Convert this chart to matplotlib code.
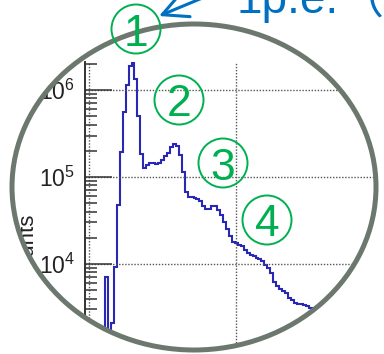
import numpy as np
import matplotlib
matplotlib.use("Agg")
import matplotlib.pyplot as plt
from matplotlib.path import Path
from matplotlib.patches import PathPatch, Ellipse, Circle
from matplotlib.ticker import LogLocator, FuncFormatter, NullFormatter

plt.rcParams["font.family"] = ["Liberation Sans", "DejaVu Sans"]

# ---- charge spectrum (counts per channel) ----
first_channel = 6
counts = [
    7.1e3, 1.6e3, 2.1e3, 9.3e3, 4.8e4, 1.95e5, 5.6e5, 1.15e6, 1.91e6, 2.04e6,
    1.35e6, 5.0e5, 1.82e5, 1.26e5, 1.38e5, 1.45e5, 1.45e5, 1.41e5, 1.45e5, 1.55e5,
    1.74e5, 1.91e5, 2.19e5, 2.40e5, 2.29e5, 1.78e5, 1.15e5, 6.8e4, 5.9e4, 5.9e4,
    5.75e4, 5.6e4, 5.25e4, 4.7e4, 4.25e4, 4.25e4, 4.7e4, 4.7e4, 4.15e4, 3.7e4,
    3.0e4, 2.5e4, 2.1e4, 1.8e4, 1.75e4, 1.65e4, 1.6e4, 1.45e4, 1.35e4, 1.26e4,
    1.23e4, 1.17e4, 1.15e4, 1.07e4, 9.8e3, 8.9e3, 7.8e3, 6.2e3, 5.6e3, 5.1e3,
    4.9e3, 4.6e3, 4.1e3, 3.9e3, 3.6e3, 3.5e3, 3.45e3, 3.4e3, 3.3e3, 3.1e3,
    2.95e3,
]
peak_labels = ["1", "2", "3", "4"]
annotation_text = "1p.e.（"
y_label = "Counts"

W, H = 384, 354
fig = plt.figure(figsize=(W / 100, H / 100), dpi=100)

# main histogram axes (pixel layout)
left_px, right_px, top_px, bottom_px = 85, 384, 62, 368.4
ax = fig.add_axes([left_px / W, (H - bottom_px) / H,
                   (right_px - left_px) / W, (bottom_px - top_px) / H])

edges = np.arange(first_channel, first_channel + len(counts) + 1) - 0.5
ax.stairs(counts, edges, baseline=1.0, color="#2828b4", lw=1.5)

ax.set_yscale("log")
ax.set_xlim(-1.25, 99.76)
ax.set_ylim(10 ** 2.8, 10 ** 6.322)
ax.set_xticks([0, 50, 100])
ax.tick_params(axis="x", length=0, labelbottom=False)

ax.yaxis.set_major_locator(LogLocator(base=10, numticks=20))
ax.yaxis.set_minor_locator(LogLocator(base=10, subs=np.arange(2, 10), numticks=20))
ax.yaxis.set_major_formatter(
    FuncFormatter(lambda v, p: r"$\mathdefault{10^{%d}}$" % round(np.log10(v))))
ax.yaxis.set_minor_formatter(NullFormatter())
ax.tick_params(axis="y", which="major", direction="in", length=19.4, width=1.1,
               color="#333333", pad=7, labelsize=16.5, labelcolor="#222222")
ax.tick_params(axis="y", which="minor", direction="in", length=8.6, width=1.1,
               color="#333333")

ax.grid(True, which="major", color="#555555", linestyle=(0, (1, 1.2)), linewidth=1.0)
for s in ("top", "right", "bottom"):
    ax.spines[s].set_visible(False)
ax.spines["left"].set_linewidth(1.4)
ax.spines["left"].set_color("#333333")

# overlay in pixel coordinates: oval cut-out and call-outs
ov = fig.add_axes([0, 0, 1, 1])
ov.set_xlim(0, W)
ov.set_ylim(H, 0)
ov.axis("off")

ov.text(33, 213, y_label, rotation=90, rotation_mode="anchor", ha="right",
        va="baseline", fontsize=16, color="#222222", zorder=0.5)

cx, cy, a, b = 194, 187, 182, 163
rect = np.array([(-5, -5), (W + 5, -5), (W + 5, H + 5), (-5, H + 5), (-5, -5)])
th = np.linspace(2 * np.pi, 0, 400)
ell = np.column_stack([cx + a * np.cos(th), cy + b * np.sin(th)])
mask = Path.make_compound_path(Path(rect, closed=True), Path(ell, closed=True))
ov.add_patch(PathPatch(mask, fc="white", ec="none", zorder=1))
ov.add_patch(Ellipse((cx, cy), 2 * a, 2 * b, fill=False, ec="#6c786e", lw=3.6, zorder=2))

green = "#00b050"
circle_pos = [(136, 29), (179, 100), (223, 163), (267, 220)]
for (px, py), lab in zip(circle_pos, peak_labels):
    ov.add_patch(Circle((px, py), 24.5, fill=False, ec=green, lw=1.4, zorder=3))
    ov.text(px, py + 16.5, lab, ha="center", va="baseline", fontsize=32,
            color=green, zorder=3)

blue = "#0070c0"
ov.text(236, 13, annotation_text, fontsize=33, color=blue, ha="left", va="baseline",
        family=["Liberation Sans", "Noto Sans CJK JP"], zorder=3)
ov.annotate("", xy=(159, 16), xytext=(212, -6), annotation_clip=False,
            arrowprops=dict(arrowstyle="->,head_length=0.9,head_width=0.45", lw=2.2,
                            color=blue, mutation_scale=20, shrinkA=0, shrinkB=0),
            zorder=3)

fig.savefig("out.png", dpi=100)
